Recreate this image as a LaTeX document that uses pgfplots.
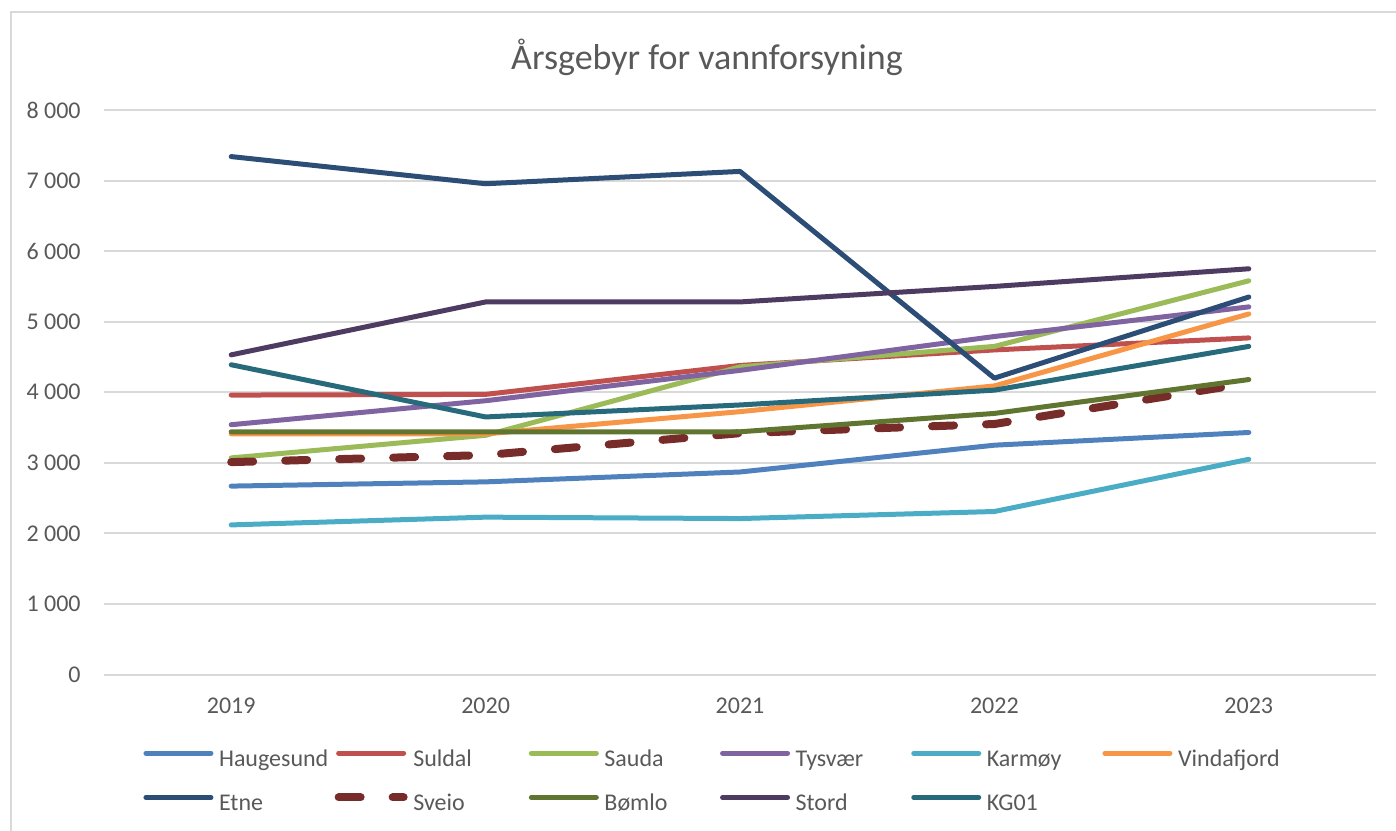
\documentclass[border=0pt]{standalone}
\usepackage{pgfplots}
\pgfplotsset{compat=1.18}
\usepackage{fontspec}
\setmainfont{Carlito}
\definecolor{txt}{HTML}{595959}
\definecolor{grid}{HTML}{D9D9D9}
\definecolor{cHau}{HTML}{4F81BD}
\definecolor{cSul}{HTML}{C0504D}
\definecolor{cSau}{HTML}{9BBB59}
\definecolor{cTys}{HTML}{8064A2}
\definecolor{cKar}{HTML}{4BACC6}
\definecolor{cVin}{HTML}{F79646}
\definecolor{cEtn}{HTML}{2C4D75}
\definecolor{cSve}{HTML}{772C2A}
\definecolor{cBom}{HTML}{5F7530}
\definecolor{cSto}{HTML}{4D3B62}
\definecolor{cKG}{HTML}{276A7C}
\begin{document}
\begin{tikzpicture}
\useasboundingbox (-52pt,-77.75pt) rectangle (646pt,337.25pt);
\draw[grid, line width=1pt] (-46.25pt,-80pt) -- (-46.25pt,331pt) -- (650pt,331pt);
\node[txt, font=\fontsize{18}{21}\selectfont] at (301.5pt,308.75pt) {Årsgebyr for vannforsyning};
\begin{axis}[
  at={(0pt,0pt)}, anchor=south west,
  scale only axis, width=636pt, height=282.25pt,
  xmin=-0.5, xmax=4.5, ymin=0, ymax=8000,
  axis line style={draw=none},
  xtick={0,1,2,3,4}, xticklabels={2019,2020,2021,2022,2023},
  ytick={0,1000,2000,3000,4000,5000,6000,7000,8000},
  yticklabels={0,1 000,2 000,3 000,4 000,5 000,6 000,7 000,8 000},
  major tick length=0pt,
  xtick style={draw=none}, ytick style={draw=none},
  xmajorgrids=false, ymajorgrids=true,
  y grid style={grid, line width=1pt},
  tick label style={font=\fontsize{12}{14}\selectfont, text=txt, inner sep=0pt},
  yticklabel style={anchor=east, xshift=-11.5pt},
  xticklabel style={anchor=north, yshift=-11.5pt},
  clip=false,
  every axis plot/.append style={line width=2.5pt, line cap=round, line join=round},
  legend image code/.code={\draw[#1] (1.25pt,3.6pt) -- (33.75pt,3.6pt);},
  legend columns=6,
  legend cell align=left,
  legend style={at={(0.0307,-0.1320)}, anchor=north west, draw=none, fill=none,
    inner sep=0pt, row sep=11pt, column sep=0pt,
    font=\fontsize{12}{14}\selectfont, text=txt,
    nodes={inner sep=0pt, text height=8.5pt, text depth=2.5pt},
    /tikz/every odd column/.append style={column sep=2.8pt}},
]
\addplot[cHau] coordinates {(0,2670) (1,2730) (2,2870) (3,3250) (4,3430)};
\addlegendentry{\makebox[57.8pt][l]{Haugesund}}
\addplot[cSul] coordinates {(0,3960) (1,3970) (2,4380) (3,4600) (4,4770)};
\addlegendentry{\makebox[57.8pt][l]{Suldal}}
\addplot[cSau] coordinates {(0,3070) (1,3390) (2,4360) (3,4650) (4,5580)};
\addlegendentry{\makebox[57.8pt][l]{Sauda}}
\addplot[cTys] coordinates {(0,3540) (1,3880) (2,4310) (3,4790) (4,5210)};
\addlegendentry{\makebox[57.8pt][l]{Tysvær}}
\addplot[cKar] coordinates {(0,2120) (1,2230) (2,2210) (3,2310) (4,3050)};
\addlegendentry{\makebox[57.8pt][l]{Karmøy}}
\addplot[cVin] coordinates {(0,3410) (1,3410) (2,3725) (3,4090) (4,5110)};
\addlegendentry{\makebox[57.8pt][l]{Vindafjord}}
\addplot[cEtn] coordinates {(0,7340) (1,6955) (2,7130) (3,4200) (4,5350)};
\addlegendentry{\makebox[57.8pt][l]{Etne}}
\addplot[cSve, line width=4pt, dash pattern=on 11pt off 16pt] coordinates {(0,3010) (1,3110) (2,3420) (3,3550) (4,4130)};
\addlegendentry{\makebox[57.8pt][l]{Sveio}}
\addplot[cBom] coordinates {(0,3440) (1,3440) (2,3440) (3,3700) (4,4180)};
\addlegendentry{\makebox[57.8pt][l]{Bømlo}}
\addplot[cSto] coordinates {(0,4530) (1,5280) (2,5280) (3,5500) (4,5750)};
\addlegendentry{\makebox[57.8pt][l]{Stord}}
\addplot[cKG] coordinates {(0,4390) (1,3650) (2,3820) (3,4030) (4,4650)};
\addlegendentry{\makebox[57.8pt][l]{KG01}}
\end{axis}
\end{tikzpicture}
\end{document}
